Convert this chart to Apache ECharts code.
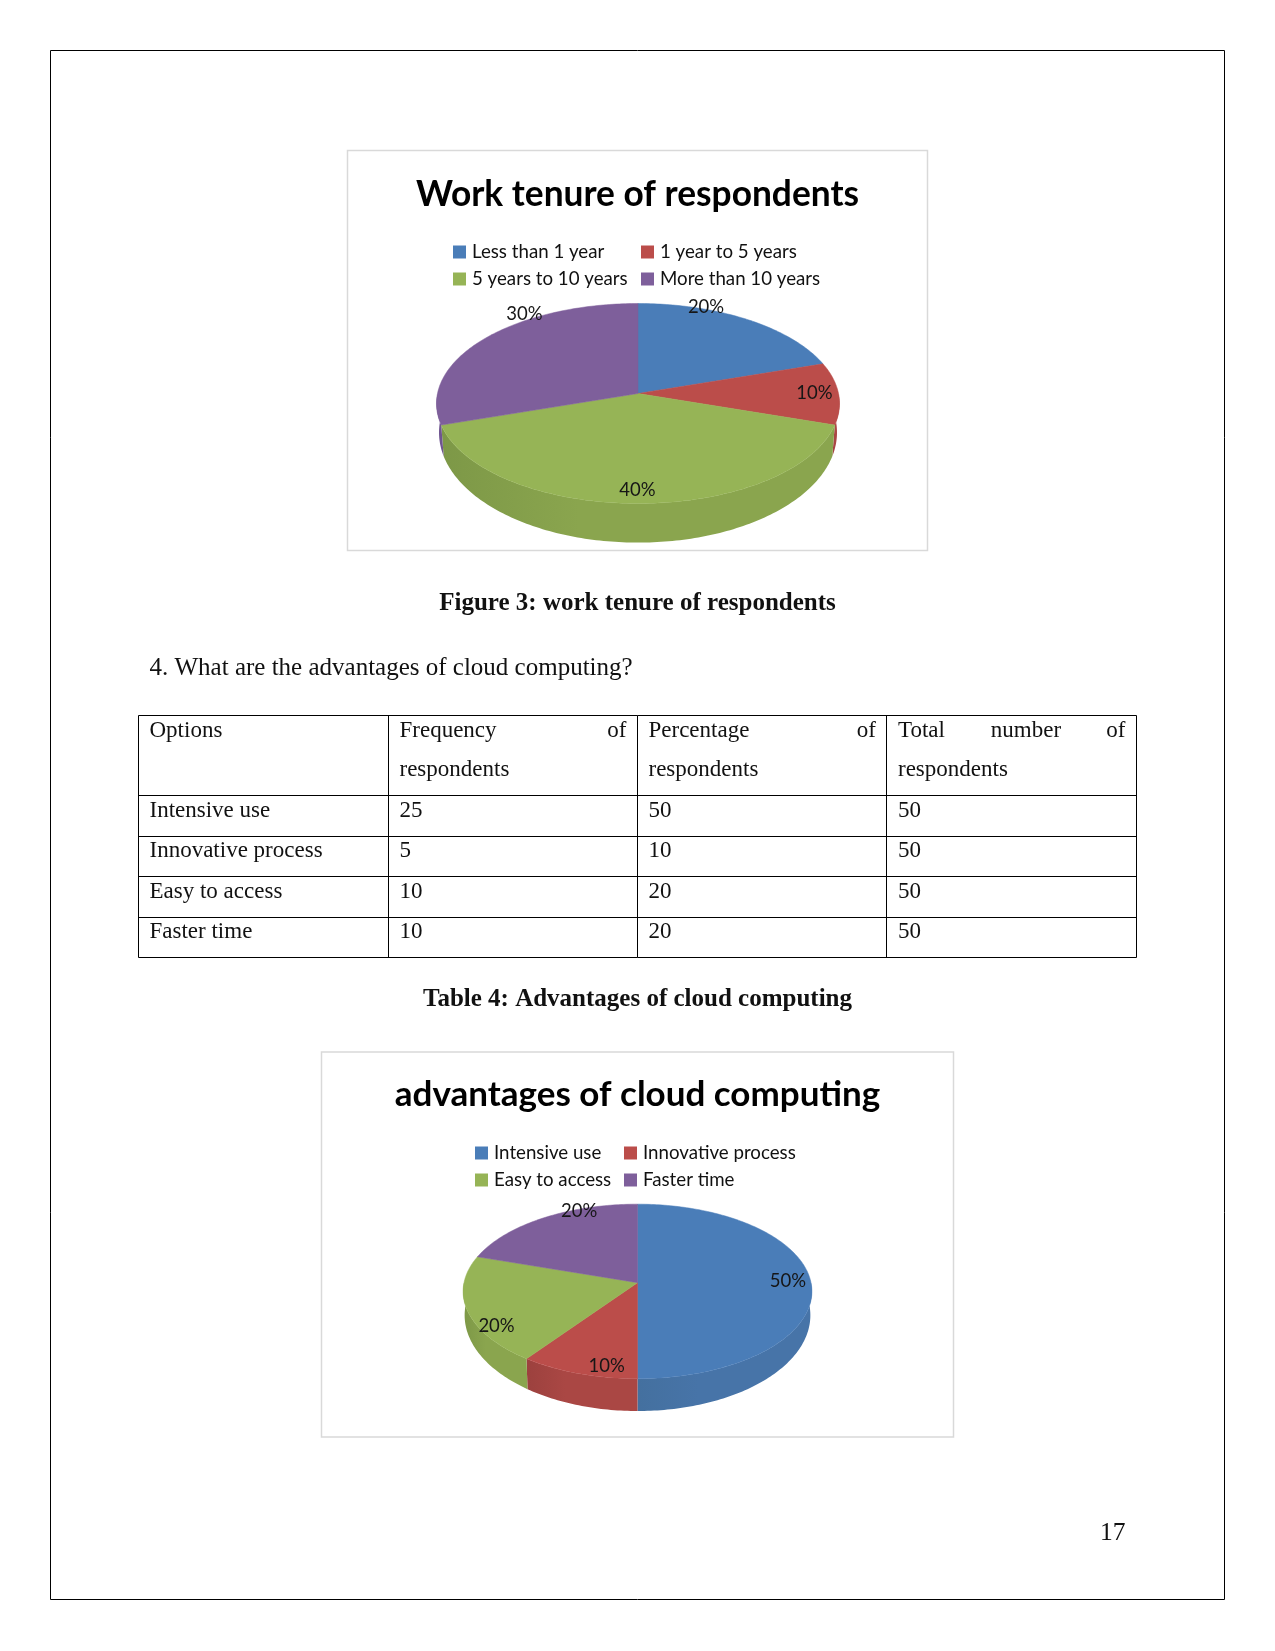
<!DOCTYPE html>
<html>
<head>
<meta charset="utf-8">
<style>html,body{margin:0;padding:0;background:#fff}#c{width:1275px;height:1651px}</style>
<script src="https://cdn.jsdelivr.net/npm/echarts@6/dist/echarts.min.js"></script>
</head>
<body>
<div id="c"></div>
<script>
// ---- data ----
const tenureTitle = 'Work tenure of respondents';
const tenureCategories = ['Less than 1 year', '1 year to 5 years', '5 years to 10 years', 'More than 10 years'];
const tenureValues = [20, 10, 40, 30];

const advantageTitle = 'advantages of cloud computing';
const advantageCategories = ['Intensive use', 'Innovative process', 'Easy to access', 'Faster time'];
const advantageValues = [50, 10, 20, 20];

const tableOptions = ['Intensive use', 'Innovative process', 'Easy to access', 'Faster time'];
const tableFrequency = ['25', '5', '10', '10'];
const tablePercentage = ['50', '10', '20', '20'];
const tableTotal = ['50', '50', '50', '50'];

const figureCaption = 'Figure 3: work tenure of respondents';
const question = '4. What are the advantages of cloud computing?';
const tableCaption = 'Table 4: Advantages of cloud computing';
const pageNumber = '17';

// ---- style ----
const colors = ['#4a7db8', '#bb4d4a', '#96b456', '#7e5f9b'];
const wallDark = ['#44709f', '#9c413e', '#7d9847', '#65497f'];
const wallLight = ['#4774a8', '#aa4744', '#8aa54e', '#6f5590'];
const SERIF = '"Liberation Serif", serif';
const SANS = 'Lato, sans-serif';

const pieGeo = [
  { cx: 638, cy: 393.5, rx: 200.5, ry: 99, p: 0.1, dy: 28, rx2: 198, ry2: 109,
    labelOffset: [[-41, -12.5], [-24, 0], [-0.5, -13.5], [39.6, -24.5]] },
  { cx: 637.5, cy: 1282.7, rx: 173.5, ry: 86.4, p: 0.1, dy: 23, rx2: 172, ry2: 94.8,
    labelOffset: [[-23, -1.7], [28.4, -7.5], [29.3, 15.7], [36, -7]] }
];

function project(g, deg, lower) {
  const t = deg * Math.PI / 180, u = Math.sin(t), v = -Math.cos(t), d = 1 - g.p * v;
  return lower
    ? [g.cx + g.rx2 * u / d, g.cy + g.dy + g.ry2 * v / d]
    : [g.cx + g.rx * u / d, g.cy + g.ry * v / d];
}

function pieSeries(cats, vals, g) {
  const total = vals.reduce((a, b) => a + b, 0);
  let acc = 0;
  return cats.map((name, i) => {
    const startV = acc; acc += vals[i];
    const startA = startV / total * 360;
    return {
      type: 'custom', name, coordinateSystem: 'none', silent: true, animation: false,
      itemStyle: { color: colors[i] },
      data: [[vals[i]]],
      z: 3,
      renderItem(params, api) {
        const a0 = startA, a1 = startA + api.value(0) / total * 360;
        const top = [[g.cx, g.cy]];
        const n = Math.max(8, Math.ceil(a1 - a0));
        for (let k = 0; k <= n; k++) top.push(project(g, a0 + (a1 - a0) * k / n));
        const children = [];
        const w0 = Math.max(a0, 90), w1 = Math.min(a1, 270);
        if (w1 > w0) {
          const m = Math.max(6, Math.ceil(w1 - w0));
          const up = [], low = [];
          for (let k = 0; k <= m; k++) {
            const a = w0 + (w1 - w0) * k / m;
            up.push(project(g, a));
            low.unshift(project(g, a, true));
          }
          children.push({
            type: 'polygon', z2: 1, shape: { points: up.concat(low) },
            style: {
              fill: new echarts.graphic.LinearGradient(0, 0, 1, 0, [
                { offset: 0, color: wallDark[i] },
                { offset: 0.35, color: wallLight[i] },
                { offset: 1, color: wallLight[i] }
              ])
            }
          });
        }
        children.push({
          type: 'polygon', z2: 2, shape: { points: top },
          style: { fill: colors[i], stroke: colors[i], lineWidth: 0.5 }
        });
        const mid = project(g, (a0 + a1) / 2), off = g.labelOffset[i];
        children.push({
          type: 'text', z2: 5, x: mid[0] + off[0], y: mid[1] + off[1],
          style: {
            text: Math.round(api.value(0) / total * 100) + '%',
            font: '18.5px ' + SANS, fill: '#161616', align: 'center', verticalAlign: 'middle'
          }
        });
        return { type: 'group', children };
      }
    };
  });
}

function txt(text, x, y, size, opt) {
  opt = opt || {};
  return { type: 'text', x, y, silent: true, style: {
    text, fill: '#111', align: opt.align || 'left', verticalAlign: 'middle',
    font: (opt.bold ? 'bold ' : '') + size + 'px ' + SERIF } };
}
function rect(x, y, w, h, stroke, lw) {
  return { type: 'rect', silent: true, shape: { x, y, width: w, height: h },
    style: { fill: 'none', stroke, lineWidth: lw } };
}
function line(x1, y1, x2, y2) {
  return { type: 'line', silent: true, shape: { x1, y1, x2, y2 }, style: { stroke: '#000', lineWidth: 1 } };
}

const colX = [138.5, 388.5, 637.5, 886.5, 1136.5];
const rowY = [715.5, 795.5, 836.5, 876.5, 917.5, 957.5];
const rowText = [810.5, 850.5, 891.5, 931.5];
const FS = 23;
const FSB = 25;

const graphics = [
  rect(50.5, 50.5, 1174, 1549, '#000', 1),
  rect(347.5, 150.5, 580, 400, '#d9d9d9', 1.5),
  rect(321.5, 1052, 632, 385, '#d9d9d9', 1.5),
  txt(figureCaption, 637.5, 604, FSB, { bold: true, align: 'center' }),
  txt(question, 149.5, 668, FSB),
  txt(tableCaption, 637.5, 1000, FSB, { bold: true, align: 'center' }),
  txt(pageNumber, 1125.5, 1533.5, 25.5, { align: 'right' }),
  // table header
  txt('Options', 149.5, 730.5, FS),
  txt('Frequency', 399.5, 730.5, FS), txt('of', 626.5, 730.5, FS, { align: 'right' }),
  txt('respondents', 399.5, 769.5, FS),
  txt('Percentage', 648.5, 730.5, FS), txt('of', 876, 730.5, FS, { align: 'right' }),
  txt('respondents', 648.5, 769.5, FS),
  txt('Total', 898, 730.5, FS), txt('number', 1026, 730.5, FS, { align: 'center' }),
  txt('of', 1125.5, 730.5, FS, { align: 'right' }),
  txt('respondents', 898, 769.5, FS)
];
colX.forEach(x => graphics.push(line(x, rowY[0], x, rowY[5])));
rowY.forEach(y => graphics.push(line(colX[0], y, colX[4], y)));
tableOptions.forEach((o, i) => {
  graphics.push(txt(o, 149.5, rowText[i], FS));
  graphics.push(txt(tableFrequency[i], 399.5, rowText[i], FS));
  graphics.push(txt(tablePercentage[i], 648.5, rowText[i], FS));
  graphics.push(txt(tableTotal[i], 898, rowText[i], FS));
});

function legend(names, left, top) {
  return {
    orient: 'vertical', left, top, padding: 0, itemGap: 8, itemWidth: 13, itemHeight: 13,
    icon: 'rect', selectedMode: false, data: names,
    textStyle: { fontFamily: SANS, fontSize: 18.7, color: '#111', padding: [0, 0, 0, 1] }
  };
}

const chart = echarts.init(document.getElementById('c'), null, { renderer: 'canvas' });
chart.setOption({
  backgroundColor: '#ffffff',
  animation: false,
  title: [
    { text: tenureTitle, left: 637.5, top: 177, textAlign: 'center', padding: 0,
      textStyle: { fontFamily: SANS, fontWeight: 'bold', fontSize: 35.3, color: '#000' } },
    { text: advantageTitle, left: 637.5, top: 1077, textAlign: 'center', padding: 0,
      textStyle: { fontFamily: SANS, fontWeight: 'bold', fontSize: 35, color: '#000' } }
  ],
  legend: [
    legend([tenureCategories[0], tenureCategories[2]], 453, 242.5),
    legend([tenureCategories[1], tenureCategories[3]], 641, 242.5),
    legend([advantageCategories[0], advantageCategories[2]], 475, 1143.5),
    legend([advantageCategories[1], advantageCategories[3]], 624, 1143.5)
  ],
  graphic: { elements: graphics },
  series: pieSeries(tenureCategories, tenureValues, pieGeo[0])
    .concat(pieSeries(advantageCategories, advantageValues, pieGeo[1]))
});
</script>
</body>
</html>
